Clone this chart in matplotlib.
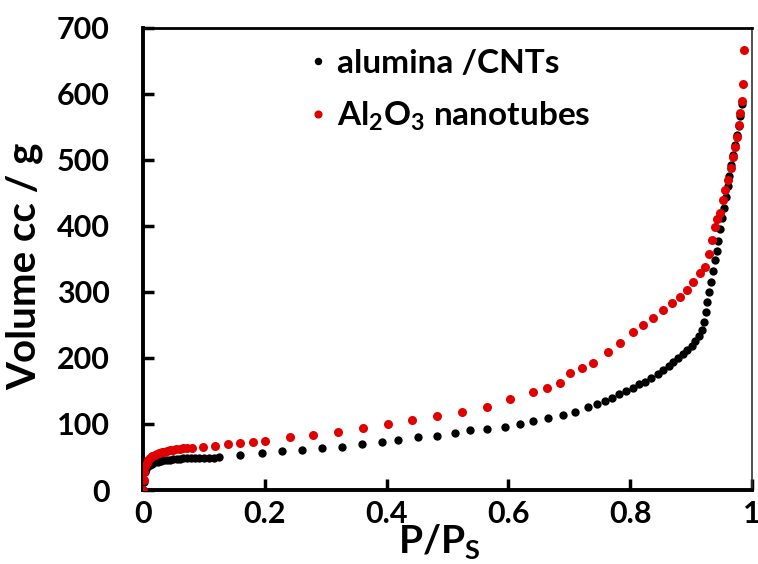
import matplotlib
matplotlib.use("Agg")
import matplotlib.pyplot as plt

plt.rcParams["font.family"] = ["Lato", "DejaVu Sans"]
plt.rcParams["font.weight"] = "bold"
plt.rcParams["mathtext.fontset"] = "custom"
plt.rcParams["mathtext.rm"] = "Lato:bold"
plt.rcParams["mathtext.it"] = "Lato:bold"
plt.rcParams["mathtext.bf"] = "Lato:bold"

# alumina / CNTs isotherm (P/Ps, volume cc/g)
p_cnt = [0.0, 0.001, 0.003, 0.005, 0.008, 0.011, 0.015, 0.02, 0.025, 0.03, 0.035,
         0.04, 0.045, 0.05, 0.055, 0.06, 0.066, 0.072, 0.078, 0.085, 0.092, 0.1,
         0.108, 0.116, 0.125,
         0.159, 0.195, 0.228, 0.261, 0.294, 0.327, 0.36, 0.392, 0.419, 0.452,
         0.483, 0.512, 0.537, 0.565, 0.594, 0.619, 0.64, 0.665, 0.69, 0.709, 0.731,
         0.745, 0.758, 0.77, 0.782, 0.793, 0.804, 0.815, 0.825, 0.835, 0.845,
         0.854, 0.863, 0.871, 0.879, 0.887, 0.894, 0.901, 0.907, 0.913, 0.918,
         0.921, 0.924, 0.927, 0.93, 0.933, 0.936, 0.939, 0.942, 0.945, 0.948,
         0.951, 0.954, 0.957, 0.96, 0.963, 0.966, 0.969, 0.972, 0.975, 0.978,
         0.981, 0.984]
v_cnt = [0, 12, 27, 32, 36, 38, 40, 42, 43, 44, 45,
         45, 46, 47, 47, 47, 48, 48, 48, 48, 49, 49,
         49, 49, 50,
         53, 56, 59, 61, 64, 65, 70, 73, 76, 80,
         82, 86, 91, 92, 95, 100, 105, 109, 114, 118, 126,
         130, 135, 140, 145, 150, 155, 160, 164, 170, 176,
         182, 188, 194, 200, 206, 212, 218, 225, 233, 242,
         255, 270, 285, 300, 315, 332, 348, 362, 378, 395,
         412, 428, 444, 460, 476, 492, 508, 523, 538, 552,
         566, 585]

# Al2O3 nanotubes isotherm
p_nt = [0.0, 0.001, 0.002, 0.004, 0.006, 0.008, 0.011, 0.015, 0.019, 0.023,
        0.027, 0.031, 0.035, 0.039, 0.044, 0.049, 0.054, 0.06, 0.066, 0.072,
        0.08,
        0.0985, 0.118, 0.14, 0.159, 0.18, 0.2, 0.241, 0.279, 0.32, 0.361,
        0.402, 0.442, 0.483, 0.524, 0.565, 0.603, 0.64, 0.663, 0.685, 0.701,
        0.721, 0.739, 0.764, 0.783, 0.805, 0.821, 0.837, 0.854, 0.869, 0.882,
        0.893, 0.903, 0.915, 0.923, 0.929, 0.934, 0.939, 0.943, 0.947, 0.952,
        0.956, 0.961, 0.965, 0.969, 0.972, 0.975, 0.978, 0.98, 0.983, 0.985,
        0.987]
v_nt = [0, 15, 28, 36, 41, 45, 48, 51, 53, 55,
        56, 57, 58, 59, 60, 61, 62, 62, 63, 63,
        64,
        65, 67, 70, 71, 73, 74, 80, 83, 88, 94,
        100, 106, 112, 118, 126, 138, 148, 155, 162, 177,
        185, 192, 209, 223, 239, 250, 261, 273, 283, 292,
        303, 315, 329, 338, 358, 379, 398, 410, 420, 439,
        455, 470, 488, 505, 520, 535, 553, 571, 590, 615,
        667]

fig = plt.figure(figsize=(7.58, 5.64), dpi=100)
ax = fig.add_axes([0.1887, 0.1312, 0.8033, 0.8192])

ax.plot(p_cnt, v_cnt, "o", color="black", markersize=6, markeredgewidth=0,
        label="alumina /CNTs", zorder=2)
ax.plot(p_nt, v_nt, "o", color="#e00000", markersize=6.5, markeredgewidth=0,
        label="Al$_2$O$_3$ nanotubes", zorder=3)

ax.set_xlim(0, 1)
ax.set_ylim(0, 700)
ax.set_xticks([0, 0.2, 0.4, 0.6, 0.8, 1])
ax.set_xticklabels(["0", "0.2", "0.4", "0.6", "0.8", "1"])
ax.set_yticks(range(0, 701, 100))

ax.tick_params(direction="in", length=8, width=2.5, labelsize=22)
ax.tick_params(axis="y", pad=24)
ax.tick_params(axis="x", pad=7)
for lab in ax.get_xticklabels() + ax.get_yticklabels():
    lab.set_fontweight("bold")

ax.spines["left"].set_linewidth(2.8)
ax.spines["bottom"].set_linewidth(2.8)
ax.spines["top"].set_linewidth(2)
ax.spines["right"].set_linewidth(1.2)
ax.spines["right"].set_color("#333333")

ax.set_xlabel("P/P$_S$", fontsize=28, fontweight="bold")
ax.xaxis.set_label_coords(0.486, -0.07)
ax.set_ylabel("Volume cc / g", fontsize=29, fontweight="bold")
ax.yaxis.set_label_coords(-0.164, 0.485)

ax.legend(loc="upper left", bbox_to_anchor=(0.277, 0.955), frameon=False,
          markerscale=0.9, handlelength=0.4, handletextpad=0.35,
          borderpad=0, borderaxespad=0, labelspacing=0.65,
          prop={"weight": "bold", "size": 24})

fig.savefig("out.png", dpi=100)
